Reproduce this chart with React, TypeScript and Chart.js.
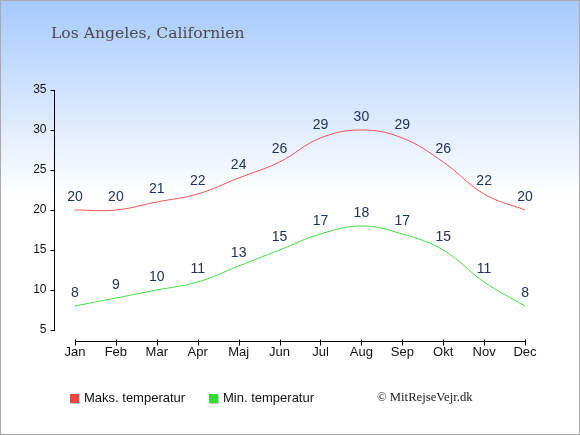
import React, { useEffect, useRef } from 'react';
import { Chart, registerables } from 'chart.js';

Chart.register(...registerables);

const months = ['Jan', 'Feb', 'Mar', 'Apr', 'Maj', 'Jun', 'Jul', 'Aug', 'Sep', 'Okt', 'Nov', 'Dec'];
const maxTemps = [20, 20, 21, 22, 24, 26, 29, 30, 29, 26, 22, 20];
const minTemps = [8, 9, 10, 11, 13, 15, 17, 18, 17, 15, 11, 8];

const SANS = "'Liberation Sans', Arial, sans-serif";
const SERIF = "'DejaVu Serif', serif";

// baggrund, ramme og titel
const backdrop = {
  id: 'backdrop',
  beforeDraw(chart: any) {
    const { ctx, width, height } = chart;
    ctx.save();
    const g = ctx.createLinearGradient(0, 0, 0, height);
    g.addColorStop(0, '#a6c9ff');
    g.addColorStop(0.45, '#ffffff');
    g.addColorStop(1, '#ffffff');
    ctx.fillStyle = g;
    ctx.fillRect(0, 0, width, height);
    ctx.strokeStyle = '#aaaaaa';
    ctx.lineWidth = 1;
    ctx.strokeRect(0.5, 0.5, width - 1, height - 1);
    ctx.fillStyle = '#4a4a4a';
    ctx.font = `15.6px ${SERIF}`;
    ctx.textBaseline = 'alphabetic';
    ctx.textAlign = 'left';
    ctx.fillText('Los Angeles, Californien', 51, 38);
    ctx.restore();
  },
};

// x-akse under plotområdet
const xAxisLine = {
  id: 'xAxisLine',
  afterDraw(chart: any) {
    const { ctx, chartArea } = chart;
    const x = chart.scales.x;
    const y = Math.round(chartArea.bottom + 11) + 0.5;
    const x0 = Math.round(x.getPixelForValue(0)) + 0.5;
    const x1 = Math.round(x.getPixelForValue(months.length - 1)) + 0.5;
    ctx.save();
    ctx.strokeStyle = '#000';
    ctx.lineWidth = 1;
    ctx.beginPath();
    ctx.moveTo(x0, y);
    ctx.lineTo(x1, y);
    months.forEach((_, i) => {
      const px = Math.round(x.getPixelForValue(i)) + 0.5;
      ctx.moveTo(px, y - 2);
      ctx.lineTo(px, y + 4);
    });
    ctx.stroke();
    ctx.restore();
  },
};

const pointLabels = {
  id: 'pointLabels',
  afterDatasetsDraw(chart: any) {
    const { ctx } = chart;
    ctx.save();
    ctx.fillStyle = '#223355';
    ctx.font = `14px ${SANS}`;
    ctx.textAlign = 'center';
    ctx.textBaseline = 'middle';
    chart.data.datasets.forEach((ds: any, di: number) => {
      const meta = chart.getDatasetMeta(di);
      meta.data.forEach((pt: any, i: number) => {
        ctx.fillText(String(ds.data[i]), pt.x, pt.y - 13);
      });
    });
    ctx.restore();
  },
};

const legendBox = {
  id: 'legendBox',
  afterDraw(chart: any) {
    const { ctx } = chart;
    const items = [
      { text: 'Maks. temperatur', color: '#ee4444', x: 70 },
      { text: 'Min. temperatur', color: '#33dd33', x: 209 },
    ];
    ctx.save();
    ctx.textBaseline = 'middle';
    ctx.textAlign = 'left';
    items.forEach((it) => {
      ctx.fillStyle = '#c8c8c8';
      ctx.fillRect(it.x + 1, 395, 9, 9);
      ctx.fillStyle = it.color;
      ctx.fillRect(it.x, 394, 9, 9);
      ctx.fillStyle = '#111';
      ctx.font = `13px ${SANS}`;
      ctx.fillText(it.text, it.x + 14, 398.5);
    });
    ctx.fillStyle = '#222';
    ctx.font = `12.7px 'Liberation Serif', serif`;
    ctx.fillText('© MitRejseVejr.dk', 377, 397.5);
    ctx.restore();
  },
};

const App: React.FC = () => {
  const canvasRef = useRef<HTMLCanvasElement>(null);
  const chartRef = useRef<Chart | null>(null);

  useEffect(() => {
    document.body.style.margin = '0';
    if (!canvasRef.current) return;
    if (chartRef.current) chartRef.current.destroy();

    chartRef.current = new Chart(canvasRef.current, {
      type: 'line',
      data: {
        labels: months,
        datasets: [
          {
            label: 'Maks. temperatur',
            data: maxTemps,
            borderColor: '#ee5555',
            borderWidth: 1,
            pointRadius: 0,
            tension: 0.4,
            fill: false,
          },
          {
            label: 'Min. temperatur',
            data: minTemps,
            borderColor: '#44dd44',
            borderWidth: 1,
            pointRadius: 0,
            tension: 0.4,
            fill: false,
          },
        ],
      },
      options: {
        animation: false,
        responsive: false,
        devicePixelRatio: 1,
        layout: { padding: { left: 8, right: 34.5, top: 90, bottom: 75 } },
        plugins: {
          legend: { display: false },
          tooltip: { enabled: false },
          title: { display: false },
        },
        scales: {
          x: {
            type: 'category',
            offset: true,
            grid: { display: false, drawTicks: false },
            border: { display: false },
            ticks: { color: '#111', font: { family: SANS, size: 13 }, padding: 15, maxRotation: 0 },
            afterFit: (s: any) => {
              s.height = 30;
            },
          },
          y: {
            min: 5,
            max: 35,
            ticks: { stepSize: 5, color: '#111', font: { family: SANS, size: 12 }, padding: 4 },
            grid: { drawOnChartArea: false, drawTicks: true, tickLength: 4, color: '#000' },
            border: { display: true, color: '#000', width: 1 },
            afterFit: (s: any) => {
              s.width = 46.5;
            },
          },
        },
      } as any,
      plugins: [backdrop, xAxisLine, pointLabels, legendBox],
    });

    return () => {
      if (chartRef.current) {
        chartRef.current.destroy();
        chartRef.current = null;
      }
    };
  }, []);

  return (
    <div style={{ width: 580, height: 435 }}>
      <canvas ref={canvasRef} width={580} height={435}></canvas>
    </div>
  );
};

export default App;
